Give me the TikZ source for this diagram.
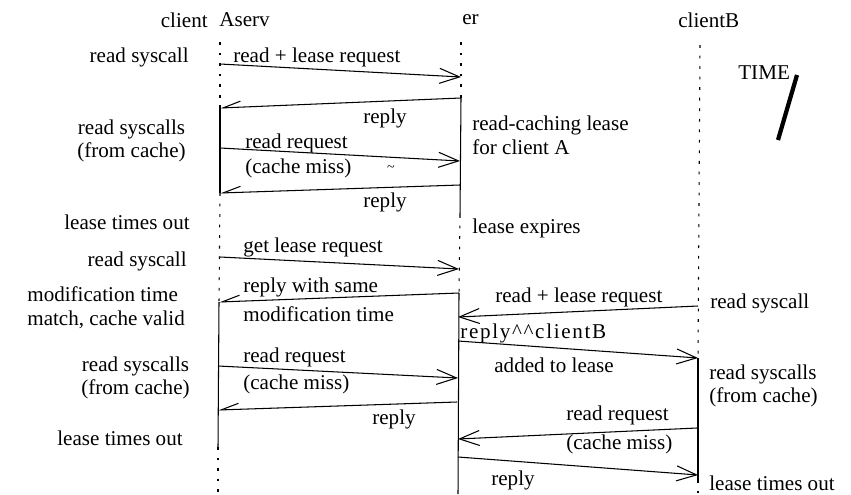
\documentclass[tikz,border=0pt]{standalone}
\usepackage{fontspec}
\setmainfont{Liberation Serif}
\usetikzlibrary{arrows.meta}

\begin{document}
\begin{tikzpicture}[
    x=0.02cm, y=-0.02cm, font=\fontsize{12}{13.5}\selectfont,
    life/.style={line width=0.6pt, dash pattern=on 1.6pt off 4.4pt},
    live/.style={line width=0.6pt},
    msg/.style={line width=0.6pt, -{Straight Barb[length=4mm, width=3mm]}},
    rep/.style={line width=0.6pt, -{Straight Barb[harpoon, swap, length=3.5mm, width=2.4mm]}},
    lab/.style={anchor=west, inner sep=0pt, align=left},
    side/.style={anchor=east, inner sep=0pt, align=center},
  ]
  \useasboundingbox (0,0) rectangle (851,494);
  % --- Kopfzeile ---
  \node[anchor=east, inner sep=0pt] (hclient) at (208,20) {client};
  \node[lab] (haserv) at (219,20) {Aserv};
  \node[lab] (her) at (462,20) {er};
  \node[lab] (hclientb) at (678,20) {clientB};
  % --- Lebenslinien (punktiert = ohne Lease) ---
  \draw[life] (220,42) -- (220,108);
  \draw[live] (220,108) -- (220,193);
  \draw[life] (220,193) -- (219,302);
  \draw[live] (219,302) -- (218,447);
  \draw[life] (218,447) -- (218,494);
  \draw[life] (461,42) -- (461,98);
  \draw[live] (461,98) -- (460,215);
  \draw[life] (460,215) -- (459,293);
  \draw[live] (459,293) -- (458,494);
  \draw[life] (700,45) -- (698,358);
  \draw[live] (698,358) -- (698,480);
  \draw[life] (698,480) -- (698,494);
  % --- Endpunkte der Nachrichten ---
  \coordinate (A1) at (220,64);   \coordinate (S1) at (461,77);
  \coordinate (S2) at (461,98);   \coordinate (A2) at (220,108);
  \coordinate (A3) at (220,148);  \coordinate (S3) at (460,161);
  \coordinate (S4) at (460,185);  \coordinate (A4) at (220,193);
  \coordinate (A5) at (220,257);  \coordinate (S5) at (459,269);
  \coordinate (S6) at (459,293);  \coordinate (A6) at (219,302);
  \coordinate (A7) at (218,366);  \coordinate (S7) at (458,378);
  \coordinate (S8) at (457,402);  \coordinate (A8) at (218,410);
  \coordinate (B1) at (698,306);  \coordinate (S9) at (458,317);
  \coordinate (S10) at (458,341); \coordinate (B2) at (698,358);
  \coordinate (B3) at (697,428);  \coordinate (S11) at (458,439);
  \coordinate (S12) at (458,457); \coordinate (B4) at (698,475);
  % --- Nachrichten ---
  \draw[msg] (A1) -- (S1);
  \draw[rep] (S2) -- (A2);
  \draw[msg] (A3) -- (S3);
  \draw[rep] (S4) -- (A4);
  \draw[msg] (A5) -- (S5);
  \draw[rep] (S6) -- (A6);
  \draw[msg] (A7) -- (S7);
  \draw[rep] (S8) -- (A8);
  \draw[msg] (B1) -- (S9);
  \draw[msg] (S10) -- (B2);
  \draw[msg] (B3) -- (S11);
  \draw[msg] (S12) -- (B4);
  % --- Client A (links) ---
  \node[anchor=east, inner sep=0pt] (la1) at (189,57) {read syscall};
  \node[side] (la2) at (186,141) {read syscalls\\(from cache)};
  \node[anchor=east, inner sep=0pt] (la3) at (190,222) {lease times out};
  \node[anchor=east, inner sep=0pt] (la4) at (187,261) {read syscall};
  \node[lab] (la5) at (27,308) {modification time\\match, cache valid};
  \node[side] (la6) at (190,378) {read syscalls\\(from cache)};
  \node[anchor=east, inner sep=0pt] (la7) at (183,438) {lease times out};
  % --- Beschriftung der Nachrichten ---
  \node[lab] (t1) at (233,57) {read + lease request};
  \node[lab] (t2) at (363,118) {reply};
  \node[lab] (t3) at (245,156) {read request\\[1pt](cache miss)};
  \node[inner sep=0pt, font=\footnotesize] (t3b) at (391,169) {\textasciitilde};
  \node[lab] (t4) at (363,202) {reply};
  \node[lab] (t5) at (243,247) {get lease request};
  \node[lab] (t6) at (243,300) {reply with same\\[3pt]modification time};
  \node[lab] (t7) at (243,371) {read request\\[2pt](cache miss)};
  \node[lab] (t8) at (372,419) {reply};
  \node[lab] (t9) at (495,297) {read + lease request};
  \node[lab, font=\fontsize{12}{13.5}\selectfont\addfontfeature{LetterSpace=8}] (t10) at (460,333) {reply\textasciicircum\textasciicircum clientB};
  \node[lab] (t11) at (494,365) {added to lease};
  \node[lab] (t12) at (566,430) {read request\\[3pt](cache miss)};
  \node[lab] (t13) at (491,480) {reply};
  % --- Server (Mitte) ---
  \node[lab] (ls1) at (472,135) {read-caching lease\\for client A};
  \node[lab] (ls2) at (472,228) {lease expires};
  % --- Client B (rechts) ---
  \node[lab] (lb1) at (710,303) {read syscall};
  \node[lab] (lb2) at (709,386) {read syscalls\\(from cache)};
  \node[lab] (lb3) at (709,483) {lease times out};
  % --- Zeitachse ---
  \node[lab] (time) at (738,73) {TIME};
  \draw[line width=2.4pt] (797,75) -- (778,140);
\end{tikzpicture}
\end{document}
